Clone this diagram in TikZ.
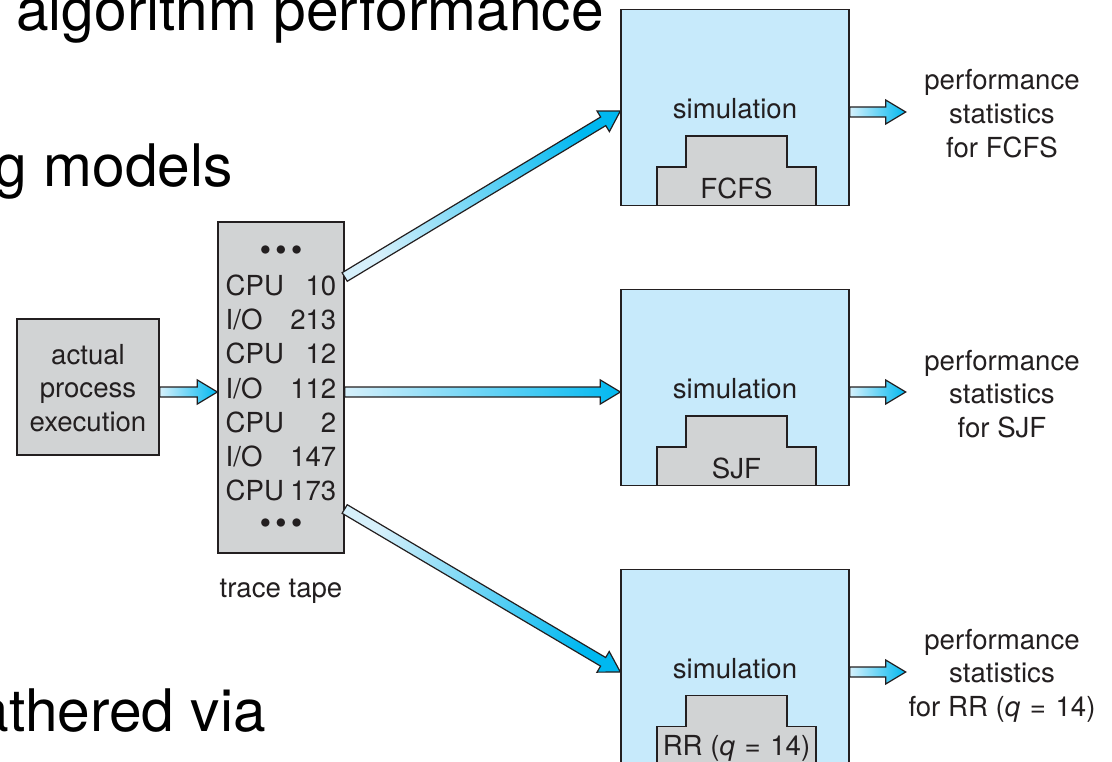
\documentclass[tikz,border=0pt]{standalone}
\usepackage{fontspec}
\setmainfont{TeX Gyre Heros}
\usetikzlibrary{calc}
\definecolor{outl}{HTML}{231F20}
\definecolor{boxgray}{HTML}{D1D3D4}
\definecolor{simblue}{HTML}{C7EAFB}
\definecolor{arrlight}{HTML}{D6F0FB}
\definecolor{arrcyan}{HTML}{00B8F0}
\newcommand\dgfont{\fontsize{20.7}{25.3}\selectfont}
\newcommand\tapefont{\fontsize{20.7}{25.6}\selectfont}
\newcommand\bigtxt{\fontsize{44}{50}\selectfont}
\newcommand\tdots{{\fontsize{25}{25}\selectfont\textbullet\hspace{3pt}\textbullet\hspace{3pt}\textbullet}}
\newcommand\qeq{(\textit{q}\hspace{0.35em}=\hspace{0.35em}14)}
\tikzset{
  fatarr/.style={draw=outl, line width=0.9pt, line join=miter, bottom color=arrlight, top color=arrcyan},
  graybox/.style={draw=outl, line width=1pt, fill=boxgray, inner sep=0pt},
  simbox/.style={draw=outl, line width=1pt, fill=simblue, minimum width=171pt, minimum height=147pt, inner sep=0pt},
  lbl/.style={text=outl, font=\dgfont, inner sep=0pt, anchor=base},
  big/.style={text=black, font=\bigtxt, inner sep=0pt},
  stepshape/.style={draw=outl, line width=1pt, fill=boxgray}
}
\newcommand\fatarrow[3]{%
  \coordinate (fahb) at ($(#2)!15pt!(#1)$);
  \path[fatarr, shading angle=#3]
    ($(#1)!3.75pt!90:(#2)$) -- ($(fahb)!3.75pt!90:(#2)$) -- ($(fahb)!9pt!90:(#2)$) -- (#2)
    -- ($(fahb)!9pt!-90:(#2)$) -- ($(fahb)!3.75pt!-90:(#2)$) -- ($(#1)!3.75pt!-90:(#2)$) -- cycle;}
\begin{document}
\begin{tikzpicture}[x=0.75pt,y=-0.75pt]
\useasboundingbox (0,0) rectangle (1112,762);
\clip (0,0) rectangle (1112,762);
\fill[white] (0,0) rectangle (1112,762);
% slide text fragments
\node[big, anchor=base west] (bt1) at (16,31) {algorithm performance};
\node[big, anchor=base east] (bt2) at (233,187) {g models};
\node[big, anchor=base east] (bt3) at (266,731) {athered via};
% actual process execution
\node[graybox, minimum width=106.5pt, minimum height=102pt] (actual) at (88,387) {};
\node[lbl] (actualtxt) at (88,364) {\begin{tabular}[t]{@{}c@{}}actual\\process\\execution\end{tabular}};
% trace tape
\node[graybox, minimum width=94.5pt, minimum height=248.25pt] (tape) at (281,387.5) {};
\node[lbl, font=\tapefont] (tapetxt) at (281,261.5) {\begin{tabular}[t]{@{}c@{}}
\tdots\\
\makebox[83pt]{CPU\hfill 10}\\
\makebox[83pt]{I/O\hfill 213}\\
\makebox[83pt]{CPU\hfill 12}\\
\makebox[83pt]{I/O\hfill 112}\\
\makebox[83pt]{CPU\hfill 2}\\
\makebox[83pt]{I/O\hfill 147}\\
\makebox[83pt]{CPU\hfill 173}\\
\tdots
\end{tabular}};
\node[lbl] (tapelbl) at (281,597) {trace tape};
% simulation boxes
\node[simbox] (sim1) at (735,107.5) {};
\node[simbox] (sim2) at (735,387.5) {};
\node[simbox] (sim3) at (735,667.5) {};
\draw[stepshape] (657,205.5) |- (686,167) |- (787,136) |- (816,167) -- (816,205.5) -- cycle;
\draw[stepshape] (657,485.5) |- (686,447) |- (787,416) |- (816,447) -- (816,485.5) -- cycle;
\draw[stepshape] (657,766) |- (686,726.5) |- (787,695.5) |- (816,726.5) -- (816,766) -- cycle;
\node[lbl] (simlbl1) at (735,118.5) {simulation};
\node[lbl] (simlbl2) at (735,398.5) {simulation};
\node[lbl] (simlbl3) at (735,678) {simulation};
\node[lbl] (alg1) at (736.5,198.5) {FCFS};
\node[lbl] (alg2) at (736.5,478.5) {SJF};
\node[lbl] (alg3) at (736.5,755) {RR \qeq};
% statistics
\node[lbl] (stat1) at (1002,90) {\begin{tabular}[t]{@{}c@{}}performance\\statistics\\for FCFS\end{tabular}};
\node[lbl] (stat2) at (1002,370) {\begin{tabular}[t]{@{}c@{}}performance\\statistics\\for SJF\end{tabular}};
\node[lbl] (stat3) at (1002,649) {\begin{tabular}[t]{@{}c@{}}performance\\statistics\\for RR \qeq\end{tabular}};
% connectors
\coordinate (a0) at ($(actual.east)+(0,5)$);
\coordinate (a1) at ($(tape.west)+(0,4.5)$);
\fatarrow{a0}{a1}{-90}
\coordinate (b0) at ($(tape.east)+(0,-110.5)$);
\coordinate (b1) at ($(sim1.west)+(0,3.5)$);
\fatarrow{b0}{b1}{-59.1}
\coordinate (c0) at ($(tape.east)+(0,4.5)$);
\coordinate (c1) at ($(sim2.west)+(0,4.5)$);
\fatarrow{c0}{c1}{-90}
\coordinate (d0) at ($(tape.east)+(0,121.5)$);
\coordinate (d1) at ($(sim3.west)+(0,4.5)$);
\fatarrow{d0}{d1}{-120.5}
\coordinate (e0) at ($(sim1.east)+(0,4.5)$);
\coordinate (e1) at ($(sim1.east)+(56,4.5)$);
\fatarrow{e0}{e1}{-90}
\coordinate (f0) at ($(sim2.east)+(0,4.5)$);
\coordinate (f1) at ($(sim2.east)+(56,4.5)$);
\fatarrow{f0}{f1}{-90}
\coordinate (g0) at ($(sim3.east)+(0,4.5)$);
\coordinate (g1) at ($(sim3.east)+(56,4.5)$);
\fatarrow{g0}{g1}{-90}
\end{tikzpicture}
\end{document}
